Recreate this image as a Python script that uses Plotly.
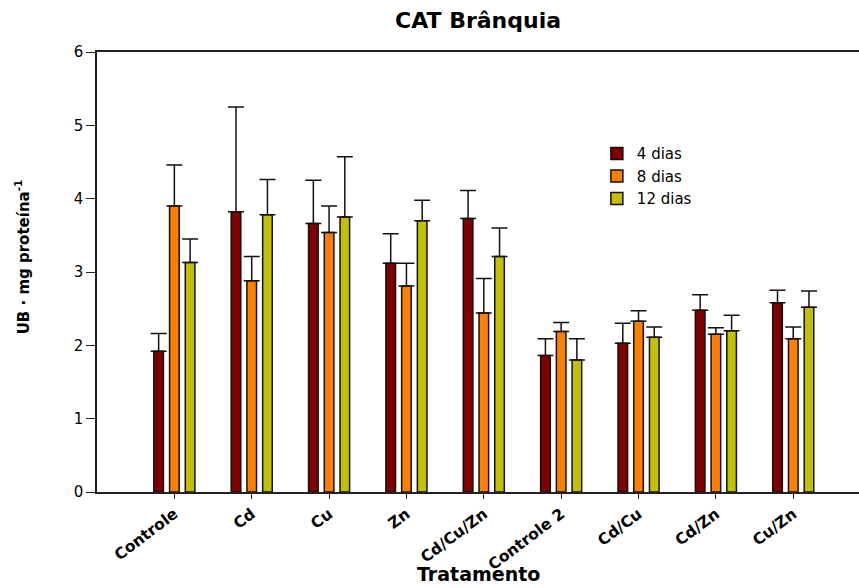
import plotly.graph_objects as go

categories = ["Controle", "Cd", "Cu", "Zn", "Cd/Cu/Zn", "Controle 2", "Cd/Cu", "Cd/Zn", "Cu/Zn"]
series_names = ["4 dias", "8 dias", "12 dias"]
vals_4 = [1.92, 3.82, 3.66, 3.12, 3.73, 1.86, 2.03, 2.48, 2.58]
err_4 = [0.24, 1.43, 0.59, 0.40, 0.38, 0.23, 0.27, 0.21, 0.17]
vals_8 = [3.90, 2.88, 3.54, 2.81, 2.44, 2.19, 2.33, 2.15, 2.09]
err_8 = [0.56, 0.33, 0.36, 0.31, 0.47, 0.12, 0.14, 0.09, 0.16]
vals_12 = [3.13, 3.78, 3.75, 3.70, 3.21, 1.80, 2.11, 2.20, 2.52]
err_12 = [0.32, 0.48, 0.82, 0.28, 0.39, 0.29, 0.14, 0.21, 0.22]
colors = ["#800000", "#FF8000", "#C4C000"]
x_title = "Tratamento"
y_title = "UB · mg proteína<sup>-1</sup>"

FONT = "DejaVu Sans"
fig = go.Figure()
for name, v, e, c in zip(series_names, [vals_4, vals_8, vals_12], [err_4, err_8, err_12], colors):
    fig.add_trace(go.Bar(
        x=categories, y=v, name=name,
        marker=dict(color=c, line=dict(color="#111111", width=1.5)),
        error_y=dict(type="data", array=e, arrayminus=[0]*len(e), symmetric=False,
                     color="#111111", thickness=1.5, width=8),
    ))

fig.update_layout(
    width=859, height=588,
    margin=dict(l=97, r=0, t=52, b=96),
    paper_bgcolor="white", plot_bgcolor="white",
    barmode="group", bargap=0.39, bargroupgap=0.39,
    title=dict(text="CAT Brânquia", x=0.5565, xanchor="center", y=0.965, yanchor="middle",
               font=dict(family=FONT, size=22, color="black", weight="bold")),
    font=dict(family=FONT, color="black"),
    legend=dict(x=0.656, y=0.806, xanchor="left", yanchor="top", bgcolor="rgba(0,0,0,0)",
                font=dict(family=FONT, size=15), tracegroupgap=0),
    showlegend=True,
)
fig.add_annotation(text=x_title, xref="paper", yref="paper", x=0.5, y=-0.186,
                   xanchor="center", yanchor="middle", showarrow=False,
                   font=dict(family=FONT, size=19, color="black", weight="bold"))
fig.add_annotation(text=y_title, xref="paper", yref="paper", x=-0.098, y=0.534,
                   xanchor="center", yanchor="middle", showarrow=False, textangle=-90,
                   font=dict(family=FONT, size=15, color="black", weight="bold"))
fig.update_xaxes(
    range=[-1, 8.85], showline=True, linecolor="#222222", linewidth=2, mirror=True,
    ticks="outside", ticklen=5, tickcolor="#222222", tickangle=-37,
    tickfont=dict(family=FONT, size=15.5, color="black", weight="bold"),
    showgrid=False,
)
fig.update_yaxes(
    range=[0, 6], dtick=1, showline=True, linecolor="#222222", linewidth=1.5,
    ticks="outside", ticklen=9, tickcolor="#222222",
    tickfont=dict(family=FONT, size=15, color="black"),
    showgrid=False, zeroline=False,
)
fig.write_html("out.html")
